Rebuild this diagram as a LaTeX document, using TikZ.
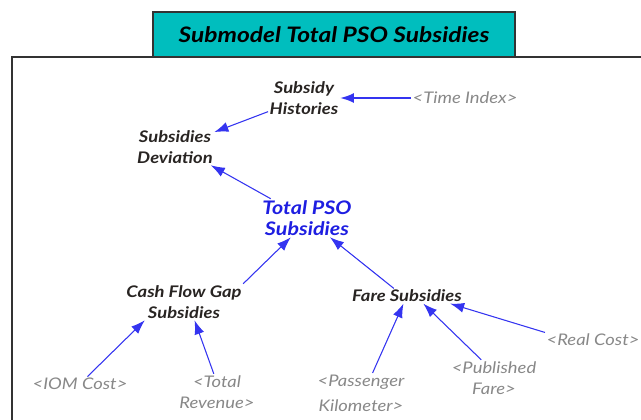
\documentclass[tikz,border=0pt]{standalone}
\usepackage{fontspec}
\setmainfont{Lato}[FakeStretch=1.15]
\usetikzlibrary{arrows.meta}
\definecolor{linkblue}{RGB}{52,52,240}
\definecolor{keyblue}{RGB}{30,30,225}
\definecolor{vartext}{RGB}{40,36,34}
\definecolor{shadowtext}{RGB}{136,136,136}
\definecolor{titlefill}{RGB}{0,190,190}
\begin{document}
\begin{tikzpicture}[x=0.75pt,y=-0.75pt,
  var/.style={align=center,inner sep=1pt,text=vartext,font=\fontsize{12}{16}\selectfont\bfseries\itshape},
  keyvar/.style={var,text=keyblue,font=\fontsize{14}{16}\selectfont\bfseries\itshape},
  shadow/.style={align=center,inner sep=1pt,text=shadowtext,font=\fontsize{12}{16}\selectfont\itshape},
  link/.style={draw=linkblue,line width=0.8pt,-{Latex[length=10.5pt,width=7.5pt]}},
  boldlink/.style={link,line width=1.6pt}
]
\useasboundingbox (0,0) rectangle (641,419);
% sketch frame and title tab
\draw[line width=1.3pt,draw=black!80] (12,430) -- (12,57) -- (650,57);
\node[draw=black!80,line width=1.3pt,fill=titlefill,minimum width=362*0.75pt,minimum height=45*0.75pt,inner sep=0pt,
      font=\fontsize{16}{18}\selectfont\bfseries\itshape] (title) at (334,34.5) {Submodel Total PSO Subsidies};

% variables
\node[var] (sh) at (304,98) {Subsidy\\Histories};
\node[shadow] (ti) at (465,98) {<Time Index>};
\node[var] (sd) at (175,147) {Subsidies\\Deviation};
\node[keyvar] (tp) at (307,218) {Total PSO\\Subsidies};
\node[var] (cf) at (184,302) {Cash Flow Gap\\Subsidies};
\node[var] (fs) at (407,296) {Fare Subsidies};
\node[shadow] (rc) at (593,340) {<Real Cost>};
\node[shadow] (iom) at (80,384) {<IOM Cost>};
\node[shadow] (tr) at (217,392) {<Total\\Revenue>};
\node[shadow,font=\fontsize{12}{19}\selectfont\itshape] (pk) at (361,393) {<Passenger\\Kilometer>};
\node[shadow] (pf) at (494,378) {<Published\\Fare>};

% causal links
\draw[boldlink] (ti) -- (sh);
\draw[link] (sh) -- (sd);
\draw[link] (tp.152) -- (sd.-27);
\draw[link] (cf.north east) -- (tp.-130);
\draw[link] (fs.150) -- (tp.-40);
\draw[link] (iom.45) -- (cf.-155);
\draw[link] (tr.100) -- (cf.-60);
\draw[link] (pk.60) -- (fs.-115);
\draw[link] (pf.125) -- (fs.-25);
\draw[link] (rc.north west) -- (fs.-10);
\end{tikzpicture}
\end{document}
